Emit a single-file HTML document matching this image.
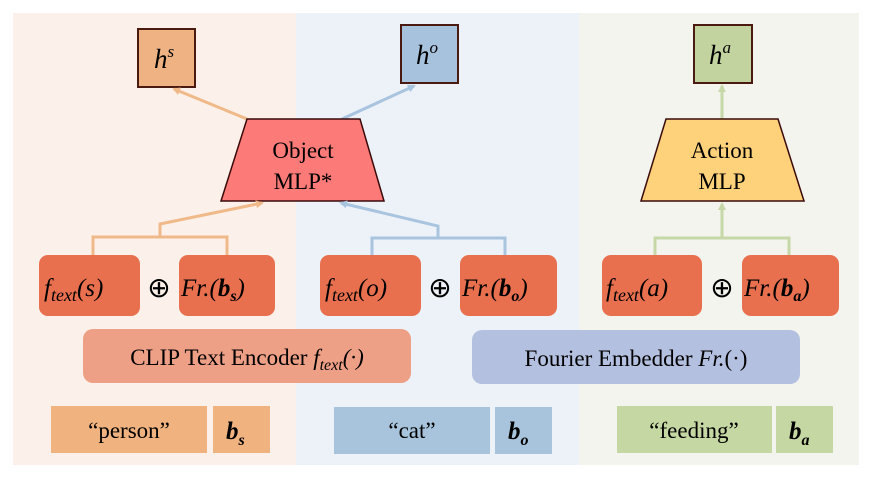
<!DOCTYPE html>
<html><head><meta charset="utf-8"><style>
body{margin:0;background:#fff}
svg{display:block}
text{font-family:"Liberation Serif",serif;}
.m{font-style:italic}
</style></head><body>
<svg width="871" height="480" viewBox="0 0 871 480" xmlns="http://www.w3.org/2000/svg">
<defs>
<marker id="ao" markerWidth="8" markerHeight="8" refX="6" refY="4" orient="auto" markerUnits="userSpaceOnUse"><path d="M0,0 L8,4 L0,8 Z" fill="#f0b98a"/></marker>
<marker id="ab" markerWidth="8" markerHeight="8" refX="6" refY="4" orient="auto" markerUnits="userSpaceOnUse"><path d="M0,0 L8,4 L0,8 Z" fill="#a9c4de"/></marker>
<marker id="ag" markerWidth="8" markerHeight="8" refX="6" refY="4" orient="auto" markerUnits="userSpaceOnUse"><path d="M0,0 L8,4 L0,8 Z" fill="#c7d8a8"/></marker>
</defs>
<rect x="13" y="13" width="283" height="452" fill="#fcf1ea"/>
<rect x="296" y="13" width="283" height="452" fill="#edf2f8"/>
<rect x="579" y="13" width="280" height="452" fill="#f3f4ee"/>

<rect x="138" y="29" width="57" height="58" fill="#eeb283" stroke="#4a1a10" stroke-width="2"/>
<text x="164" y="68" font-size="27" text-anchor="middle" class="m">h<tspan font-size="17" dy="-11">s</tspan></text>
<rect x="401" y="25" width="57" height="58" fill="#a6c2dc" stroke="#4a1a10" stroke-width="2"/>
<text x="427" y="64" font-size="27" text-anchor="middle" class="m">h<tspan font-size="17" dy="-11">o</tspan></text>
<rect x="694" y="25" width="58" height="58" fill="#c3d3a0" stroke="#4a1a10" stroke-width="2"/>
<text x="720" y="64" font-size="27" text-anchor="middle" class="m">h<tspan font-size="17" dy="-11">a</tspan></text>

<line x1="247" y1="119" x2="174" y2="89" stroke="#f0b98a" stroke-width="3" marker-end="url(#ao)"/>
<line x1="342" y1="119" x2="414" y2="86" stroke="#a9c4de" stroke-width="3" marker-end="url(#ab)"/>
<line x1="722" y1="119" x2="722" y2="86" stroke="#c7d8a8" stroke-width="3" marker-end="url(#ag)"/>

<polygon points="247,119 360,119 384,201 221,201" fill="#fc7b78" stroke="#3a0a0a" stroke-width="1.5"/>
<text x="303" y="158" font-size="23" text-anchor="middle">Object</text>
<text x="303" y="189" font-size="23" text-anchor="middle">MLP*</text>
<polygon points="666,119 778,119 804,201 641,201" fill="#fed27a" stroke="#3a0a0a" stroke-width="1.5"/>
<text x="722" y="158" font-size="23" text-anchor="middle">Action</text>
<text x="722" y="189" font-size="23" text-anchor="middle">MLP</text>

<path d="M93,256 V237 H227 V256 M160,237 V224 L262,203" fill="none" stroke="#f0b98a" stroke-width="3" marker-end="url(#ao)"/>
<path d="M372,256 V238 H505 V256 M438,238 V226 L341,203" fill="none" stroke="#a9c4de" stroke-width="3" marker-end="url(#ab)"/>
<path d="M655,256 V238 H789 V256 M722,238 V204" fill="none" stroke="#c7d8a8" stroke-width="3" marker-end="url(#ag)"/>

<g fill="#e8704f">
<rect x="39" y="255" width="101" height="61" rx="9"/>
<rect x="179" y="255" width="96" height="61" rx="9"/>
<rect x="320" y="255" width="101" height="61" rx="9"/>
<rect x="460" y="255" width="97" height="61" rx="9"/>
<rect x="602" y="255" width="100" height="61" rx="9"/>
<rect x="742" y="255" width="97" height="61" rx="9"/>
</g>
<g font-size="25" class="m">
<text x="44" y="296">f<tspan font-size="18" dy="5">text</tspan><tspan dy="-5">(s)</tspan></text>
<text x="181" y="296">Fr.(<tspan font-weight="bold">b</tspan><tspan font-size="16" font-weight="bold" dy="5">s</tspan><tspan dy="-5">)</tspan></text>
<text x="325" y="296">f<tspan font-size="18" dy="5">text</tspan><tspan dy="-5">(o)</tspan></text>
<text x="462" y="296">Fr.(<tspan font-weight="bold">b</tspan><tspan font-size="16" font-weight="bold" dy="5">o</tspan><tspan dy="-5">)</tspan></text>
<text x="606" y="296">f<tspan font-size="18" dy="5">text</tspan><tspan dy="-5">(a)</tspan></text>
<text x="744" y="296">Fr.(<tspan font-weight="bold">b</tspan><tspan font-size="16" font-weight="bold" dy="5">a</tspan><tspan dy="-5">)</tspan></text>
</g>
<g font-size="28" text-anchor="middle">
<text x="159" y="297">⊕</text>
<text x="440" y="297">⊕</text>
<text x="722" y="297">⊕</text>
</g>

<rect x="83" y="329" width="328" height="54" rx="10" fill="#eea087"/>
<text x="247" y="365" font-size="23" text-anchor="middle">CLIP Text Encoder <tspan class="m">f<tspan font-size="16" dy="5">text</tspan><tspan dy="-5">(·)</tspan></tspan></text>
<rect x="472" y="330" width="328" height="54" rx="10" fill="#b4c0e0"/>
<text x="636" y="366" font-size="23" text-anchor="middle">Fourier Embedder <tspan class="m">Fr.</tspan>(·)</text>

<rect x="51" y="406" width="156" height="47" fill="#f0b380"/>
<rect x="213" y="406" width="57" height="47" fill="#f0b380"/>
<rect x="334" y="407" width="156" height="47" fill="#a8c4dc"/>
<rect x="495" y="407" width="57" height="47" fill="#a8c4dc"/>
<rect x="617" y="406" width="155" height="47" fill="#c5d7a2"/>
<rect x="776" y="406" width="57" height="47" fill="#c5d7a2"/>
<g font-size="23" text-anchor="middle">
<text x="129" y="438">“person”</text>
<text x="412" y="438">“cat”</text>
<text x="694" y="438">“feeding”</text>
</g>
<g font-size="25" font-weight="bold" class="m">
<text x="226" y="439">b<tspan font-size="16" dy="6">s</tspan></text>
<text x="508" y="439">b<tspan font-size="16" dy="6">o</tspan></text>
<text x="789" y="439">b<tspan font-size="16" dy="6">a</tspan></text>
</g>
</svg>
</body></html>
